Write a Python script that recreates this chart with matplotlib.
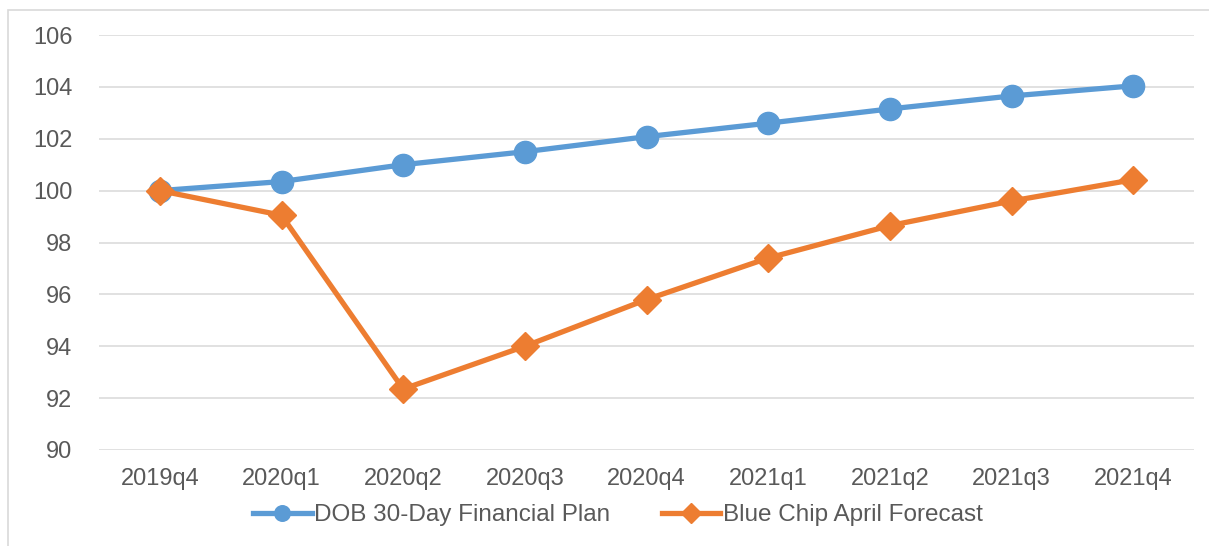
import matplotlib.pyplot as plt
from matplotlib.patches import Rectangle

quarters = ['2019q4', '2020q1', '2020q2', '2020q3', '2020q4',
            '2021q1', '2021q2', '2021q3', '2021q4']
dob_plan = [100.0, 100.35, 101.0, 101.5, 102.08, 102.6, 103.15, 103.65, 104.04]
blue_chip = [100.0, 99.05, 92.35, 94.0, 95.8, 97.4, 98.65, 99.6, 100.42]
yticks = [90, 92, 94, 96, 98, 100, 102, 104, 106]

plt.rcParams['font.family'] = ['Liberation Sans', 'DejaVu Sans']
text_col = '#595959'

fig = plt.figure(figsize=(12.09, 5.46), dpi=100)
# outer chart border (only top/left visible in the crop)
fig.patches.append(Rectangle((8 / 1209, -0.1), 1.2, 1 - 10 / 546 + 0.1,
                             transform=fig.transFigure, fill=False,
                             edgecolor='#D9D9D9', linewidth=1.2))

ax = fig.add_axes([99 / 1209, 1 - 450 / 546, (1194 - 99) / 1209, (450 - 35) / 546])
x = list(range(len(quarters)))
ax.plot(x, dob_plan, color='#5B9BD5', lw=3.8, marker='o', ms=16,
        label='DOB 30-Day Financial Plan', zorder=3)
ax.plot(x, blue_chip, color='#ED7D31', lw=3.8, marker='D', ms=14,
        label='Blue Chip April Forecast', zorder=4)

ax.set_xlim(-0.5, len(quarters) - 0.5)
ax.set_ylim(90, 106)
ax.set_yticks(yticks)
ax.set_xticks(x)
ax.set_xticklabels(quarters)
ax.grid(axis='y', color='#D9D9D9', lw=1.1)
ax.set_axisbelow(True)
for s in ax.spines.values():
    s.set_visible(False)
ax.tick_params(axis='both', length=0, labelsize=17, labelcolor=text_col)
ax.tick_params(axis='x', pad=13)
ax.tick_params(axis='y', pad=19)

fig.legend(loc='center', bbox_to_anchor=(618 / 1209, 1 - 515 / 546), ncol=2,
           frameon=False, fontsize=17.5, labelcolor=text_col, markerscale=0.7,
           handlelength=2.4, handletextpad=0.12, columnspacing=2.1,
           borderaxespad=0)

fig.savefig('out.png', dpi=100, facecolor='white')
